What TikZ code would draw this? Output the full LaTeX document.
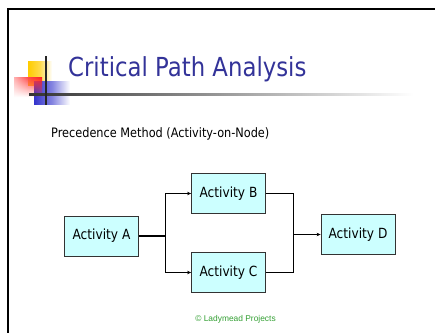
\documentclass[tikz,border=0pt]{standalone}
\usepackage{fontspec}
\setmainfont{DejaVu Sans}
\newfontfamily\tah[FakeStretch=0.87]{DejaVu Sans}
\newfontfamily\arialf{Liberation Sans}
\usetikzlibrary{arrows.meta,fadings}
\definecolor{titleblue}{RGB}{51,51,153}
\definecolor{boxfill}{RGB}{204,255,255}
\definecolor{copygreen}{RGB}{51,160,51}
\definecolor{decoyellow}{RGB}{255,204,0}
\definecolor{decoblue}{RGB}{51,51,204}
\definecolor{decored}{RGB}{255,30,30}
\tikzset{
  actbox/.style={draw=black!80, fill=boxfill, line width=0.8pt, minimum width=74pt, minimum height=40pt, inner sep=0pt, font=\tah\fontsize{14}{16}\selectfont},
  conn/.style={line width=0.8pt, black},
  arr/.style={conn, -{Stealth[length=4pt,width=3.5pt]}}
}
\begin{document}
\begin{tikzpicture}[x=1pt,y=-1pt]
\useasboundingbox[fill=white] (0,0) rectangle (435,332);
% frame
\draw[line width=2.5pt, line cap=rect] (8,332) -- (8,9) -- (435,9);
% decoration
\begin{scope}[y=1pt]
\shade[left color=decoyellow, right color=white, middle color=decoyellow!70] (28,-61) rectangle (52,-85);
\shade[left color=decoblue, right color=white, middle color=decoblue!60] (34,-81) rectangle (70,-104);
\shade[left color=decored!35, right color=decored, middle color=decored!80, path fading=south] (14,-77) rectangle (42,-97);
\end{scope}
\shade[left color=black!80, right color=white] (29,93) rectangle (413,95.5);
\draw[line width=1.6pt, black!85] (46,56) -- (46,105);
% title
\node[anchor=base west, inner sep=0pt, text=titleblue, font=\tah\fontsize{26.2}{30}\selectfont] (title) at (68,76) {Critical Path Analysis};
\node[anchor=west, inner sep=0pt, font=\tah\fontsize{13}{15}\selectfont] (sub) at (51,134) {Precedence Method (Activity-on-Node)};
% boxes
\node[actbox] (A) at (101.5,236) {Activity A};
\node[actbox] (B) at (228.5,193.5) {Activity B};
\node[actbox] (C) at (228.5,272.5) {Activity C};
\node[actbox] (D) at (358,234.5) {Activity D};
\coordinate (j1) at (165,236);
\coordinate (j2) at (293,234.5);
\draw[conn, line width=1.4pt] (A.east) -- (j1);
\draw[arr] (j1) |- (B.west);
\draw[arr] (j1) |- (C.west);
\draw[conn] (B.east) -| (j2);
\draw[conn] (C.east) -| (j2);
\draw[arr] (j2) -- (D.west);
\node[text=copygreen, inner sep=0pt, font=\arialf\fontsize{8.4}{10}\selectfont] (copy) at (235.5,319) {© Ladymead Projects};
\end{tikzpicture}
\end{document}
